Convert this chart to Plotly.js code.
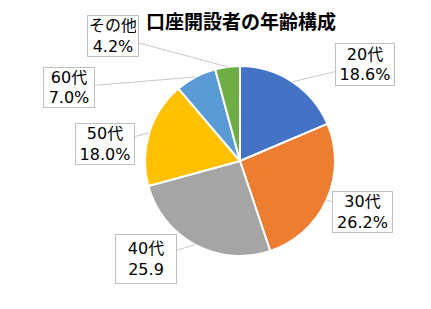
<!DOCTYPE html>
<html><head><meta charset="utf-8">
<script src="https://cdn.plot.ly/plotly-3.0.1.min.js"></script>
<style>html,body{margin:0;padding:0;background:#fff}</style>
</head><body>
<div id="chart" style="width:431px;height:309px"></div>
<script>
const categories = ["20代", "30代", "40代", "50代", "60代", "その他"];
const values = [18.6, 26.2, 25.9, 18.0, 7.0, 4.2];
const valueLabels = ["18.6%", "26.2%", "25.9", "18.0%", "7.0%", "4.2%"];
const colors = ["#4472C4", "#ED7D31", "#A5A5A5", "#FFC000", "#5B9BD5", "#70AD47"];

const W = 431, H = 309;
const cx = 240, cy = 161, R = 95;
// label boxes: center x, center y, width, height (px)
const boxes = [[365, 64.5, 60, 43], [362.5, 212, 61, 42], [146, 259, 62, 50],
               [105, 144, 60, 42], [69, 87.5, 52, 41], [113, 36, 52, 42]];

const total = values.reduce((a, b) => a + b, 0);
let cum = 0;
const pad = 2;
const annotations = categories.map((c, i) => {
  const mid = (cum + values[i] / 2) / total * 2 * Math.PI;
  cum += values[i];
  const tx = cx + R * Math.sin(mid), ty = cy - R * Math.cos(mid);
  const b = boxes[i];
  return {
    xref: 'paper', yref: 'paper',
    x: tx / W, y: 1 - ty / H,
    ax: b[0] - tx, ay: b[1] - ty,
    showarrow: true, arrowhead: 0, arrowwidth: 1, arrowcolor: '#c8c8c8', standoff: 0,
    text: c + '<br>' + valueLabels[i],
    width: b[2] - 2 * pad - 2, height: b[3] - 2 * pad - 2,
    font: {family: '"DejaVu Sans", "Noto Sans CJK JP", sans-serif', size: 16, color: '#000'},
    bgcolor: '#fff', bordercolor: '#bfbfbf', borderwidth: 1, borderpad: pad,
    align: 'center', valign: 'middle'
  };
});

const data = [{
  type: 'pie', labels: categories, values: values, sort: false,
  direction: 'clockwise', rotation: 0,
  marker: {colors: colors, line: {color: '#fff', width: 2}},
  textinfo: 'none', hoverinfo: 'none', showlegend: false,
  domain: {x: [(cx - R) / W, (cx + R) / W], y: [1 - (cy + R) / H, 1 - (cy - R) / H]}
}];

const layout = {
  width: W, height: H, margin: {l: 0, r: 0, t: 0, b: 0},
  paper_bgcolor: '#fff', showlegend: false,
  title: {text: '口座開設者の年齢構成', x: 241 / W, xanchor: 'center', y: 1 - 22 / H, yanchor: 'middle',
    font: {family: '"Noto Sans CJK JP", sans-serif', size: 19, weight: 'bold', color: '#000'}},
  annotations: annotations
};
Plotly.newPlot('chart', data, layout, {displayModeBar: false, staticPlot: true});
</script>
</body></html>
